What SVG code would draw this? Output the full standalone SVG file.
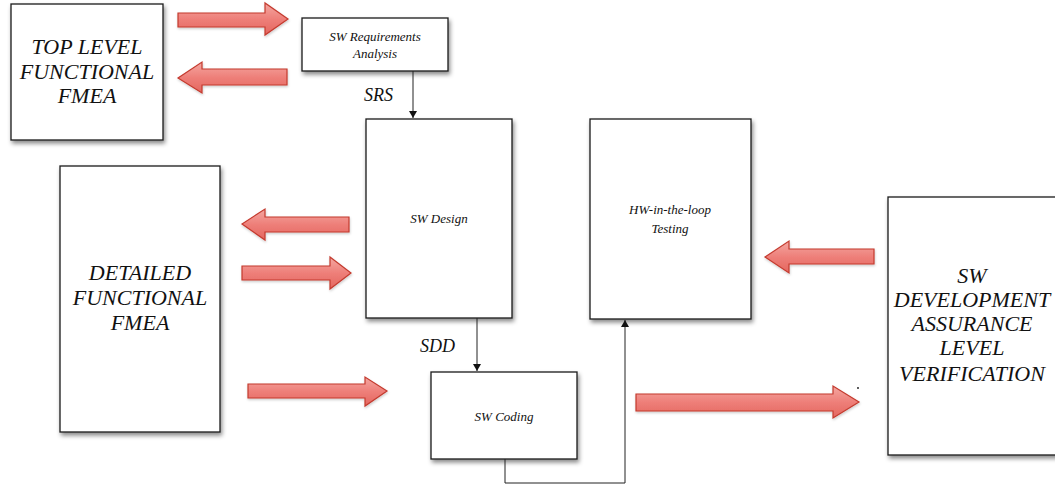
<svg xmlns="http://www.w3.org/2000/svg" width="1055" height="484" viewBox="0 0 1055 484">
  <style>
    .box { fill: #ffffff; stroke: #1a1a1a; stroke-width: 1.3; filter: url(#shadow); }
    .flow { fill: url(#redfill); stroke: #c43a2e; stroke-width: 1.2; stroke-linejoin: miter; filter: url(#soft); }
    .conn { fill: none; stroke: #222; stroke-width: 1; }
  </style>
  <defs>
    <linearGradient id="redfill" x1="0" y1="0" x2="0" y2="1">
      <stop offset="0" stop-color="#f4a7a1"/>
      <stop offset="0.5" stop-color="#ee7f79"/>
      <stop offset="1" stop-color="#e4665f"/>
    </linearGradient>
    <filter id="shadow" x="-10%" y="-10%" width="125%" height="125%">
      <feDropShadow dx="1.5" dy="3" stdDeviation="2" flood-color="#000" flood-opacity="0.45"/>
    </filter>
    <filter id="soft" x="-10%" y="-20%" width="125%" height="150%">
      <feDropShadow dx="0.5" dy="1.5" stdDeviation="1.2" flood-color="#000" flood-opacity="0.2"/>
    </filter>
    <marker id="tip" markerWidth="8" markerHeight="10" refX="7" refY="4" orient="auto" markerUnits="userSpaceOnUse">
      <path d="M0,0 L7,4 L0,8 Z" fill="#111"/>
    </marker>
  </defs>

  <!-- process boxes; all labels are italic Times-style text -->
  <g font-family="Liberation Serif" font-style="italic" fill="#111">
    <g id="top-level-fmea">
      <rect class="box" x="11" y="4" width="152" height="136"/>
      <g font-size="22" text-anchor="middle">
        <text x="87" y="54">TOP LEVEL</text>
        <text x="87" y="79">FUNCTIONAL</text>
        <text x="87" y="103">FMEA</text>
      </g>
    </g>
    <g id="sw-requirements">
      <rect class="box" x="302" y="18" width="146" height="53"/>
      <g font-size="13" text-anchor="middle">
        <text x="375" y="41">SW Requirements</text>
        <text x="375" y="58">Analysis</text>
      </g>
    </g>
    <g id="sw-design">
      <rect class="box" x="366" y="119" width="146" height="199"/>
      <text x="439" y="223" font-size="13" text-anchor="middle">SW Design</text>
    </g>
    <g id="hw-in-the-loop">
      <rect class="box" x="590" y="119" width="161" height="200"/>
      <g font-size="13" text-anchor="middle">
        <text x="670" y="214">HW-in-the-loop</text>
        <text x="670" y="233">Testing</text>
      </g>
    </g>
    <g id="detailed-fmea">
      <rect class="box" x="60" y="166" width="160" height="266"/>
      <g font-size="22" text-anchor="middle">
        <text x="140" y="280">DETAILED</text>
        <text x="140" y="305">FUNCTIONAL</text>
        <text x="140" y="330">FMEA</text>
      </g>
    </g>
    <g id="sw-coding">
      <rect class="box" x="431" y="372" width="146" height="87"/>
      <text x="504" y="421" font-size="13" text-anchor="middle">SW Coding</text>
    </g>
    <g id="sw-dal-verification">
      <rect class="box" x="888" y="197" width="170" height="258"/>
      <g font-size="22" text-anchor="middle">
        <text x="972" y="283">SW</text>
        <text x="972" y="307">DEVELOPMENT</text>
        <text x="972" y="331">ASSURANCE</text>
        <text x="972" y="355">LEVEL</text>
        <text x="972" y="381">VERIFICATION</text>
      </g>
    </g>
  </g>

  <!-- connectors -->
  <g id="connectors">
    <line class="conn" x1="413" y1="71" x2="413" y2="118" marker-end="url(#tip)"/>
    <line class="conn" x1="477" y1="318" x2="477" y2="371" marker-end="url(#tip)"/>
    <polyline class="conn" points="505,459 505,483 625,483 625,320" marker-end="url(#tip)"/>
    <g font-family="Liberation Serif" font-style="italic" font-size="18" fill="#111">
      <text x="364" y="101">SRS</text>
      <text x="420" y="352">SDD</text>
    </g>

    <!-- broad flow arrows -->
    <path class="flow" d="M178,13 H265 V3 L288,19 L265,35 V27 H178 Z"/>
    <path class="flow" d="M287,69 H202 V62 L178,78 L202,93 V85 H287 Z"/>
    <path class="flow" d="M349,217 H265 V209 L242,224 L265,240 V232 H349 Z"/>
    <path class="flow" d="M242,266 H330 V257 L351,273 L330,289 V280 H242 Z"/>
    <path class="flow" d="M248,384 H365 V377 L387,391 L365,406 V398 H248 Z"/>
    <path class="flow" d="M636,394 H833 V386 L859,402 L833,418 V411 H636 Z"/>
    <path class="flow" d="M874,249 H789 V241 L765,257 L789,273 V264 H874 Z"/>
    <circle cx="858" cy="388" r="0.9" fill="#111"/>
  </g>
</svg>
